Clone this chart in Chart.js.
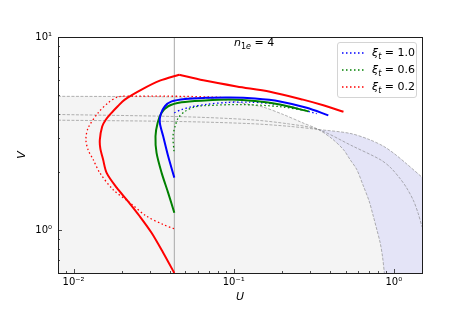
<!DOCTYPE html>
<html>
<head>
<meta charset="utf-8">
<script src="https://cdn.jsdelivr.net/npm/chart.js@4/dist/chart.umd.min.js"></script>
<style>
  html, body { margin: 0; padding: 0; background: #fff; }
  #wrap { position: relative; width: 469px; height: 313px; font-family: "DejaVu Sans", sans-serif; color: #000; }
  #title { position: absolute; left: 234px; top: 36px; font-size: 11px; line-height: 13px; white-space: nowrap; }
  #legend { position: absolute; left: 337px; top: 42px; width: 80px; height: 56px; box-sizing: border-box;
            border: 1px solid #d4d4d4; border-radius: 3px; background: rgba(255,255,255,0.85); font-size: 11px; }
  .row { position: absolute; left: 0; height: 16px; line-height: 16px; white-space: nowrap; }
  .row svg { position: absolute; left: 4px; top: 6px; }
  .row span.t { position: absolute; left: 34px; top: 0; }
  .sub { font-size: 8px; position: relative; top: 3px; }
</style>
</head>
<body>
<div id="wrap">
  <canvas id="chart" width="469" height="313"></canvas>
  <div id="title"><i>n</i><span class="sub">1<i>e</i></span> = 4</div>
  <div id="legend"></div>
</div>
<script>
// axes
var uRange = [0.008, 1.5];
var vRange = [0.6, 10];
var xMajor = [0.01, 0.1, 1];
var xTickText = ['10\u207B\u00B2', '10\u207B\u00B9', '10\u2070'];
var xMinor = [0.009, 0.02, 0.03, 0.04, 0.05, 0.06, 0.07, 0.08, 0.09, 0.2, 0.3, 0.4, 0.5, 0.6, 0.7, 0.8, 0.9];
var yMajor = [1, 10];
var yTickText = ['10\u2070', '10\u00B9'];
var yMinor = [0.6, 0.7, 0.8, 0.9, 2, 3, 4, 5, 6, 7, 8, 9];
var uCore = 0.0426;

// legend
var xiLabels = ['1.0', '0.6', '0.2'];
var xiColors = ['#0000ff', '#008000', '#ff0000'];

// boundary curves of the shaded zones [U, V]
var boundTop = [[0.008,4.93],[0.02,4.92],[0.04,4.9],[0.06,4.85],[0.09,4.7],[0.127,4.47],[0.1525,4.34],[0.204,3.97],[0.271,3.59],[0.338,3.32],[0.41,2.98],[0.485,2.61],[0.533,2.32],[0.587,2.06],[0.646,1.69],[0.70,1.42],[0.745,1.18],[0.785,1.0],[0.822,0.86],[0.85,0.73],[0.873,0.60]];
var boundMid = [[0.008,3.97],[0.046,3.87],[0.127,3.73],[0.22,3.55],[0.338,3.32],[0.55,2.73],[0.822,2.32],[0.948,2.12],[1.094,1.85],[1.2,1.66],[1.328,1.42],[1.42,1.22],[1.5,1.04]];
var boundOuter = [[0.008,3.71],[0.046,3.65],[0.127,3.56],[0.22,3.45],[0.338,3.32],[0.533,3.17],[0.70,2.95],[0.862,2.72],[1.0,2.5],[1.206,2.2],[1.5,1.88]];

// solutions
var blueSolid = [[0.0426,1.87],[0.039,2.41],[0.0363,3.06],[0.0346,3.59],[0.035,3.97],[0.0372,4.38],[0.041,4.64],[0.0497,4.78],[0.0662,4.84],[0.0948,4.86],[0.136,4.80],[0.1945,4.64],[0.286,4.30],[0.39,3.93]];
var blueDotted = [[0.0426,4.05],[0.0473,4.21],[0.0546,4.35],[0.0662,4.47],[0.09,4.58],[0.125,4.60],[0.17,4.52],[0.23,4.34],[0.33,4.01]];
var greenSolid = [[0.0426,1.23],[0.039,1.56],[0.0355,1.98],[0.033,2.51],[0.0325,3.06],[0.0335,3.59],[0.0355,4.05],[0.039,4.38],[0.0473,4.59],[0.0662,4.69],[0.0948,4.74],[0.136,4.66],[0.1945,4.47],[0.292,4.12]];
var greenDotted = [[0.0424,2.56],[0.0418,3.06],[0.0431,3.45],[0.0451,3.81],[0.0497,4.12],[0.0573,4.35],[0.0662,4.41],[0.1094,4.47],[0.1945,4.36],[0.30,4.12]];
var redSolid = [[0.0426,0.60],[0.0363,0.764],[0.0307,0.969],[0.0259,1.18],[0.0219,1.41],[0.0186,1.66],[0.0161,1.98],[0.0153,2.32],[0.0147,2.65],[0.0146,2.94],[0.0151,3.44],[0.0159,3.73],[0.01728,4.05],[0.0189,4.38],[0.0209,4.74],[0.0266,5.34],[0.0346,5.94],[0.0457,6.38],[0.0646,5.97],[0.1045,5.55],[0.1686,5.21],[0.271,4.74],[0.363,4.43],[0.485,4.10]];
var redDotted = [[0.0424,1.017],[0.0363,1.07],[0.0286,1.18],[0.0225,1.386],[0.01768,1.62],[0.0146,1.98],[0.01326,2.32],[0.0123,2.62],[0.01195,2.95],[0.01233,3.38],[0.01425,4.05],[0.01644,4.56],[0.019,4.90],[0.025,4.94],[0.0473,4.93],[0.085,4.87]];

function pts(a) { return a.map(function(p) { return { x: p[0], y: p[1] }; }); }

function line(data, color, width, dash, order, tension) {
  return {
    data: pts(data), showLine: true, pointRadius: 0, borderColor: color, borderWidth: width,
    borderDash: dash || [], fill: false, order: order, tension: tension == null ? 0.3 : tension
  };
}

// the red solid curve has a sharp corner at its top, draw both sides of it separately
var peak = 0;
redSolid.forEach(function(p, i) { if (p[1] > redSolid[peak][1]) peak = i; });

var greyDash = 'rgba(110,110,110,0.75)';
var datasets = [
  // fills (drawn first)
  { data: pts(boundOuter), showLine: true, pointRadius: 0, borderWidth: 0, fill: 'start', backgroundColor: '#e4e4f7', order: 20, tension: 0.3 },
  { data: pts(boundTop), showLine: true, pointRadius: 0, borderWidth: 0, fill: 'start', backgroundColor: '#f4f4f4', order: 19, tension: 0.3 },
  line(boundTop, greyDash, 0.7, [3, 1.5], 18),
  line(boundMid, greyDash, 0.7, [3, 1.5], 17),
  line(boundOuter, greyDash, 0.7, [3, 1.5], 16),
  line([[uCore, vRange[0]], [uCore, vRange[1]]], '#a8a8a8', 1, null, 15, 0),
  line(redDotted, '#ff0000', 1.3, [1.5, 2.5], 6),
  line(greenDotted, '#008000', 1.3, [1.5, 2.5], 5),
  line(blueDotted, '#0000ff', 1.3, [1.5, 2.5], 4),
  line(redSolid.slice(0, peak + 1), '#ff0000', 2, null, 3),
  line(redSolid.slice(peak), '#ff0000', 2, null, 3),
  line(greenSolid, '#008000', 2, null, 2),
  line(blueSolid, '#0000ff', 2, null, 1)
];

var axisTicks = {
  id: 'axisTicks',
  afterDraw: function(chart) {
    var ctx = chart.ctx, a = chart.chartArea, x = chart.scales.x, y = chart.scales.y;
    ctx.save();
    ctx.strokeStyle = '#222';
    ctx.lineWidth = 0.8;
    ctx.beginPath();
    function tx(v, len) { var p = Math.round(x.getPixelForValue(v)) + 0.5; ctx.moveTo(p, a.bottom); ctx.lineTo(p, a.bottom - len); }
    function ty(v, len) { var p = Math.round(y.getPixelForValue(v)) + 0.5; ctx.moveTo(a.left, p); ctx.lineTo(a.left + len, p); }
    xMajor.forEach(function(v) { tx(v, 4); });
    xMinor.forEach(function(v) { tx(v, 2); });
    yMajor.forEach(function(v) { ty(v, 4); });
    yMinor.forEach(function(v) { ty(v, 2); });
    ctx.stroke();
    ctx.lineWidth = 1;
    ctx.strokeStyle = '#1e1e1e';
    ctx.strokeRect(Math.round(a.left) + 0.5, Math.round(a.top) + 0.5, Math.round(a.right - a.left), Math.round(a.bottom - a.top));
    ctx.restore();
  }
};

new Chart(document.getElementById('chart').getContext('2d'), {
  type: 'scatter',
  data: { datasets: datasets },
  plugins: [axisTicks],
  options: {
    responsive: false,
    devicePixelRatio: 1,
    animation: false,
    events: [],
    layout: { padding: { left: 0, top: 37, right: 47, bottom: 0 } },
    plugins: { legend: { display: false }, tooltip: { enabled: false } },
    scales: {
      x: {
        type: 'logarithmic', min: uRange[0], max: uRange[1],
        grid: { display: false, drawTicks: false }, border: { display: false },
        afterBuildTicks: function(s) { s.ticks = xMajor.map(function(v) { return { value: v }; }); },
        afterFit: function(s) { s.height = 40; },
        ticks: {
          autoSkip: false, maxRotation: 0, padding: 3, color: '#000',
          font: { family: 'DejaVu Sans', size: 10 },
          callback: function(v) { var i = xMajor.indexOf(v); return i < 0 ? '' : xTickText[i]; }
        },
        title: { display: true, text: 'U', color: '#000', font: { family: 'DejaVu Sans', size: 11, style: 'italic' }, padding: { top: 9, bottom: 9 } }
      },
      y: {
        type: 'logarithmic', min: vRange[0], max: vRange[1],
        grid: { display: false, drawTicks: false }, border: { display: false },
        afterBuildTicks: function(s) { s.ticks = yMajor.map(function(v) { return { value: v }; }); },
        afterFit: function(s) { s.width = 58; },
        ticks: {
          autoSkip: false, padding: 6, color: '#000',
          font: { family: 'DejaVu Sans', size: 10 },
          callback: function(v) { var i = yMajor.indexOf(v); return i < 0 ? '' : yTickText[i]; }
        },
        title: { display: true, text: 'V', color: '#000', font: { family: 'DejaVu Sans', size: 11, style: 'italic' }, padding: { top: 16, bottom: 16 } }
      }
    }
  }
});

// legend entries
var leg = document.getElementById('legend');
var rowTops = [2, 19, 36];
xiLabels.forEach(function(lab, i) {
  var row = document.createElement('div');
  row.className = 'row';
  row.style.top = rowTops[i] + 'px';
  row.innerHTML = '<svg width="23" height="4"><line x1="0" y1="2" x2="23" y2="2" stroke="' + xiColors[i] +
    '" stroke-width="1.4" stroke-dasharray="1.5 2.5"/></svg>' +
    '<span class="t"><i>\u03BE</i><span class="sub"><i>t</i></span> = ' + lab + '</span>';
  leg.appendChild(row);
});
</script>
</body>
</html>
